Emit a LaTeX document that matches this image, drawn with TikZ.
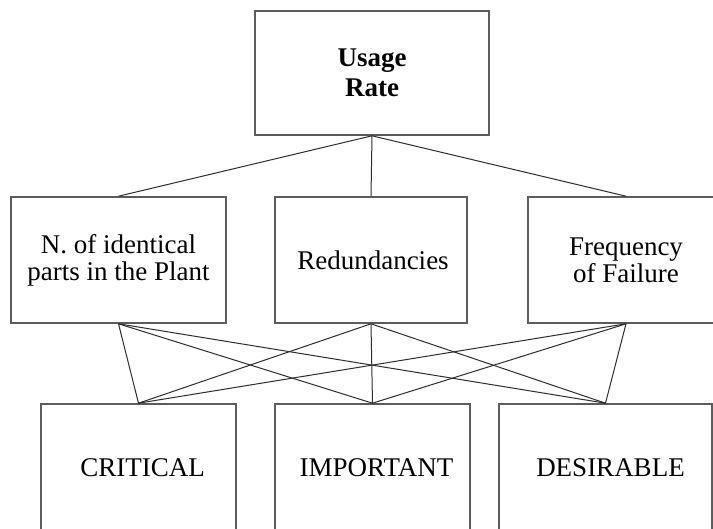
\documentclass[tikz,border=0pt]{standalone}
\usepackage{fontspec}
\setmainfont{Liberation Serif}
\definecolor{boxline}{HTML}{5C5C5C}
\definecolor{linkline}{HTML}{2E2E2E}
\tikzset{
  box/.style={draw=boxline, line width=1.6pt, rectangle, inner sep=0pt},
  lbl/.style={font=\fontsize{27}{27}\selectfont, align=center, inner sep=0pt},
  toplbl/.style={font=\fontsize{27}{30}\selectfont\bfseries, align=center, inner sep=0pt},
  link/.style={draw=linkline, line width=1pt}
}
\begin{document}
\begin{tikzpicture}[x=1pt, y=-1pt]
  \clip (0,0) rectangle (713,529);
  \fill[white] (0,0) rectangle (713,529);

  % goal
  \node[box, minimum width=234pt, minimum height=124pt] (goal) at (372,73) {};
  \node[toplbl] at (goal.center) {Usage\\Rate};

  % criteria
  \node[box, minimum width=215pt, minimum height=126pt] (c1) at (118.5,260) {};
  \node[box, minimum width=192pt, minimum height=126pt] (c2) at (371,260) {};
  \node[box, minimum width=196pt, minimum height=126pt] (c3) at (626,260) {};
  \node[lbl] at (c1.center) {N. of identical\\parts in the Plant};
  \node[lbl] at ([xshift=2pt]c2.center) {Redundancies};
  \node[lbl] at (c3.center) {Frequency\\of Failure};

  % classes
  \node[box, minimum width=195pt, minimum height=152pt] (a1) at (138.5,480) {};
  \node[box, minimum width=195pt, minimum height=152pt] (a2) at (372.5,480) {};
  \node[box, minimum width=213pt, minimum height=152pt] (a3) at (605.5,480) {};
  \node[lbl] at ([xshift=4pt,yshift=12pt]a1.center) {CRITICAL};
  \node[lbl] at ([xshift=4pt,yshift=12pt]a2.center) {IMPORTANT};
  \node[lbl] at ([xshift=5pt,yshift=12pt]a3.center) {DESIRABLE};

  % goal to criteria
  \foreach \c in {c1,c2,c3}
    \draw[link] (goal.south) -- (\c.north);

  % every criterion to every class
  \foreach \c in {c1,c2,c3}
    \foreach \a in {a1,a2,a3}
      \draw[link] (\c.south) -- (\a.north);
\end{tikzpicture}
\end{document}
